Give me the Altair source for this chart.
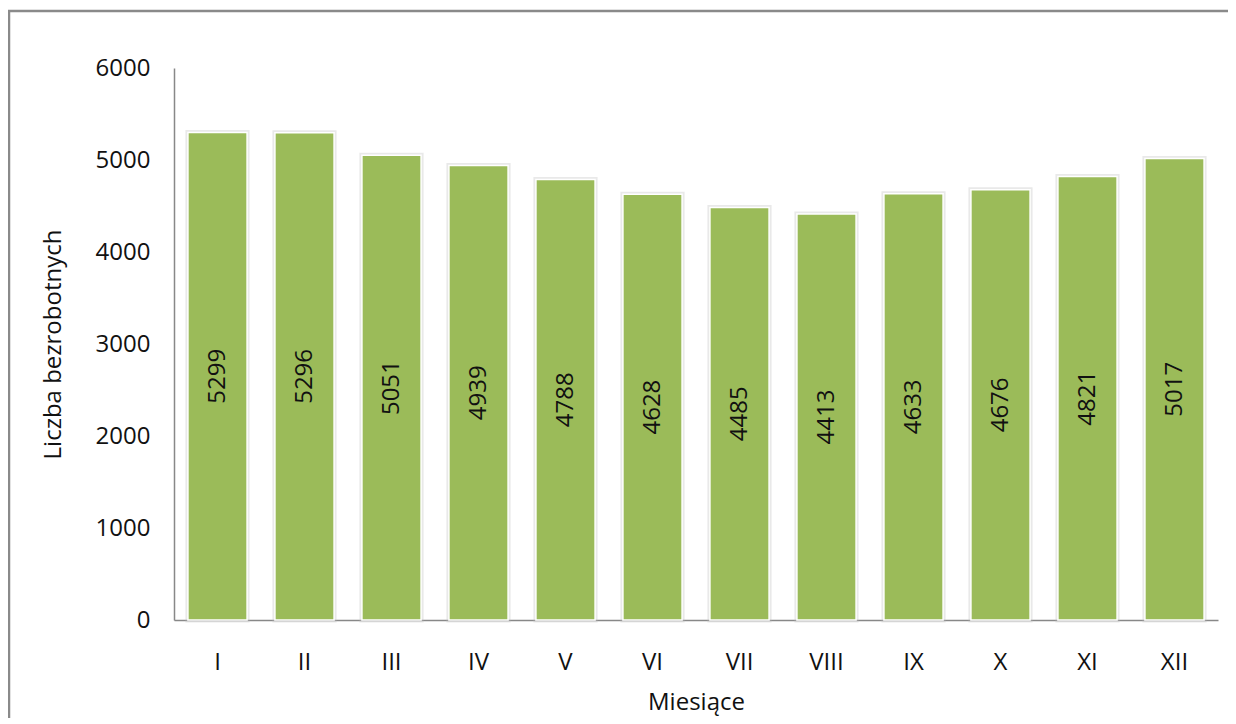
import altair as alt
import pandas as pd

months = ["I", "II", "III", "IV", "V", "VI", "VII", "VIII", "IX", "X", "XI", "XII"]
values = [5299, 5296, 5051, 4939, 4788, 4628, 4485, 4413, 4633, 4676, 4821, 5017]

df = pd.DataFrame({"month": months, "value": values})

FONT = "Open Sans"
W, H = 1044, 552

x = alt.X("month:N", sort=months, title="Miesiące",
          scale=alt.Scale(paddingInner=0.32, paddingOuter=0.16),
          axis=alt.Axis(labelAngle=0, labelFontSize=24, labelFont=FONT, labelColor="#111",
                        labelPadding=30, ticks=False, domainColor="#888888", domainWidth=1.5,
                        titleFontSize=24, titleFont=FONT, titleFontWeight="normal",
                        titleColor="#111", titlePadding=16))
y = alt.Y("value:Q", title="Liczba bezrobotnych",
          scale=alt.Scale(domain=[0, 6000], nice=False),
          axis=alt.Axis(values=[0, 1000, 2000, 3000, 4000, 5000, 6000], format="d",
                        grid=False, ticks=False,
                        labelFontSize=24, labelFont=FONT, labelColor="#111", labelPadding=24,
                        domainColor="#888888", domainWidth=1.5,
                        titleFontSize=24, titleFont=FONT, titleFontWeight="normal",
                        titleColor="#111", titlePadding=30))

base = alt.Chart(df)

frame = base.mark_rect(fill=None, stroke="#8a8a8a", strokeWidth=2.5, clip=False).encode(
    x=alt.value(-165), x2=alt.value(1200), y=alt.value(-57), y2=alt.value(800)
).transform_filter(alt.datum.month == "I")

shadow = base.mark_bar(fill="#9bbb59", stroke="#bfbfbf", strokeWidth=5, strokeOpacity=0.35).encode(
    x=x, y=y
)

bars = base.mark_bar(fill="#9bbb59", stroke="#ffffff", strokeWidth=1.5).encode(x=x, y=y)

labels = base.transform_calculate(half="datum.value / 2").mark_text(
    angle=270, fontSize=24, font=FONT, color="#111", baseline="middle", align="center"
).encode(x=alt.X("month:N", sort=months), y=alt.Y("half:Q"), text=alt.Text("value:Q", format="d"))

chart = alt.layer(frame, shadow, bars, labels).properties(
    width=W, height=H,
    padding={"left": 166, "top": 60, "right": 10, "bottom": 98},
    autosize=alt.AutoSizeParams(type="none"),
    background="white",
).configure_view(stroke=None)

chart.save("out.html", embed_options={"renderer": "svg", "actions": False})
